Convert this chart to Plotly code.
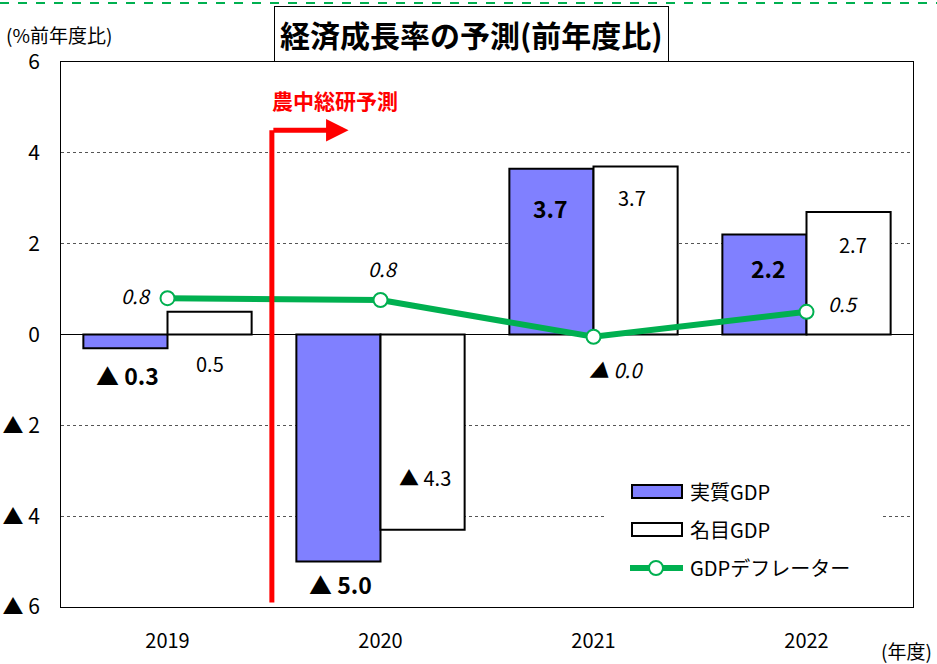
import plotly.graph_objects as go

years = ["2019", "2020", "2021", "2022"]
real_gdp = [-0.3, -5.0, 3.65, 2.2]
nominal_gdp = [0.5, -4.3, 3.7, 2.7]
deflator = [0.8, 0.76, -0.05, 0.5]

real_labels = ["▲ 0.3", "▲ 5.0", "3.7", "2.2"]
nominal_labels = ["0.5", "▲ 4.3", "3.7", "2.7"]
deflator_labels = ["0.8", "0.8", "▲ 0.0", "0.5"]

y_tickvals = [6, 4, 2, 0, -2, -4, -6]
y_ticktext = ["6", "4", "2", "0", "▲ 2", "▲ 4", "▲ 6"]

legend_names = ["実質GDP", "名目GDP", "GDPデフレーター"]

FONT = "Noto Sans CJK JP"
NUMFONT = "Noto Sans CJK JP"

REAL_COLOR = "#8080FF"
DEF_COLOR = "#00B050"

L, T, W, H = 61, 62, 852, 545
def px(x):
    return (x - L) / W
def py(y):
    return (T + H - y) / H

fig = go.Figure()
fig.add_trace(go.Bar(name=legend_names[0], x=years, y=real_gdp,
                     marker=dict(color=REAL_COLOR, line=dict(color="black", width=2))))
fig.add_trace(go.Bar(name=legend_names[1], x=years, y=nominal_gdp,
                     marker=dict(color="white", line=dict(color="black", width=2))))
fig.add_trace(go.Scatter(name=legend_names[2], x=years, y=deflator, mode="lines+markers",
                         line=dict(color=DEF_COLOR, width=6),
                         marker=dict(size=14, color="white", line=dict(color=DEF_COLOR, width=2))))

ann = []
real_pos = [(-0.19, -0.89), (0.81, -5.49), (1.80, 2.79), (2.82, 1.46)]
for (x, y), t in zip(real_pos, real_labels):
    ann.append(dict(x=x, y=y, xref="x", yref="y", xanchor="center", yanchor="middle",
                    text="<b>" + t + "</b>", showarrow=False,
                    font=dict(size=23, color="black", family=NUMFONT)))
nom_pos = [(0.20, -0.63), (1.21, -3.14), (2.18, 3.02), (3.22, 1.99)]
for (x, y), t in zip(nom_pos, nominal_labels):
    ann.append(dict(x=x, y=y, xref="x", yref="y", xanchor="center", yanchor="middle",
                    text=t, showarrow=False,
                    font=dict(size=20, color="black", family=NUMFONT)))
def_pos = [(-0.15, 0.85), (1.01, 1.46), (2.11, -0.76), (3.17, 0.69)]
for (x, y), t in zip(def_pos, deflator_labels):
    ann.append(dict(x=x, y=y, xref="x", yref="y", xanchor="center", yanchor="middle",
                    text="<i>" + t + "</i>", showarrow=False,
                    font=dict(size=20, color="black", family=NUMFONT)))

# red arrow
ann.append(dict(x=0.85, y=4.5, xref="x", yref="y", ax=0.49, ay=4.5, axref="x", ayref="y",
                text="", showarrow=True, arrowhead=2, arrowsize=0.9, arrowwidth=5,
                arrowcolor="#FF0000"))
ann.append(dict(x=px(335), y=py(100), xref="paper", yref="paper", xanchor="center",
                yanchor="middle", text="<b>農中総研予測</b>",
                showarrow=False, font=dict(size=21, color="#FF0000", family=FONT)))

# title box
ann.append(dict(x=px(471), y=py(34), xref="paper", yref="paper", xanchor="center",
                yanchor="middle", text="<b>経済成長率の予測(前年度比)</b>", showarrow=False,
                font=dict(size=30, color="black", family=FONT),
                bordercolor="black", borderwidth=1, borderpad=5, bgcolor="white"))
# unit labels
ann.append(dict(x=px(4), y=py(34), xref="paper", yref="paper",
                text="(%前年度比)", showarrow=False, xanchor="left", yanchor="middle",
                font=dict(size=19, color="black", family=FONT)))
ann.append(dict(x=px(934), y=py(650), xref="paper", yref="paper",
                text="(年度)", showarrow=False, xanchor="right", yanchor="middle",
                font=dict(size=19, color="black", family=FONT)))

shapes = [
    dict(type="line", xref="x", yref="y", x0=0.49, x1=0.49, y0=-5.9, y1=4.5,
         line=dict(color="#FF0000", width=5)),
    dict(type="line", xref="paper", yref="paper", x0=px(0), x1=px(937),
         y0=py(3), y1=py(3), line=dict(color=DEF_COLOR, width=2, dash="dash")),
    # legend background
    dict(type="rect", xref="paper", yref="paper", x0=px(606), x1=px(882), y0=py(585), y1=py(475),
         fillcolor="white", line=dict(width=0), layer="above"),
    dict(type="rect", xref="paper", yref="paper", x0=px(632), x1=px(682), y0=py(498), y1=py(485),
         fillcolor=REAL_COLOR, line=dict(color="black", width=2), layer="above"),
    dict(type="rect", xref="paper", yref="paper", x0=px(632), x1=px(682), y0=py(536), y1=py(523),
         fillcolor="white", line=dict(color="black", width=2), layer="above"),
    dict(type="line", xref="paper", yref="paper", x0=px(630), x1=px(683), y0=py(568), y1=py(568),
         line=dict(color=DEF_COLOR, width=6), layer="above"),
    dict(type="circle", xref="paper", yref="paper", x0=px(649), x1=px(663), y0=py(575), y1=py(561),
         fillcolor="white", line=dict(color=DEF_COLOR, width=2), layer="above"),
]
for name, yc in zip(legend_names, [491, 529, 567]):
    ann.append(dict(x=px(688), y=py(yc), xref="paper", yref="paper", text=name, showarrow=False,
                    xanchor="left", yanchor="middle",
                    font=dict(size=20, color="black", family=FONT)))

fig.update_layout(
    width=937, height=664,
    margin=dict(l=L, r=937 - L - W, t=T, b=664 - T - H, autoexpand=False),
    paper_bgcolor="white", plot_bgcolor="white",
    barmode="group", bargap=0.21, bargroupgap=0,
    font=dict(family=FONT, color="black"),
    showlegend=False,
    annotations=ann,
    shapes=shapes,
)
fig.update_xaxes(range=[-0.5, 3.5], showline=True, linecolor="black", linewidth=1, mirror=True,
                 tickfont=dict(size=20, family=NUMFONT), ticks="", ticklabelstandoff=16,
                 automargin=False)
fig.update_yaxes(range=[-6, 6], tickvals=y_tickvals, ticktext=y_ticktext,
                 showline=True, linecolor="black", linewidth=1, mirror=True,
                 showgrid=True, gridcolor="#555555", griddash="dot", gridwidth=1,
                 zeroline=True, zerolinecolor="black", zerolinewidth=1,
                 tickfont=dict(size=21, family=NUMFONT), ticks="", ticklabelstandoff=16,
                 automargin=False)

fig.write_html("out.html", config={"displayModeBar": False},
               post_script="document.body.style.margin='0px';document.body.style.overflow='hidden';")
